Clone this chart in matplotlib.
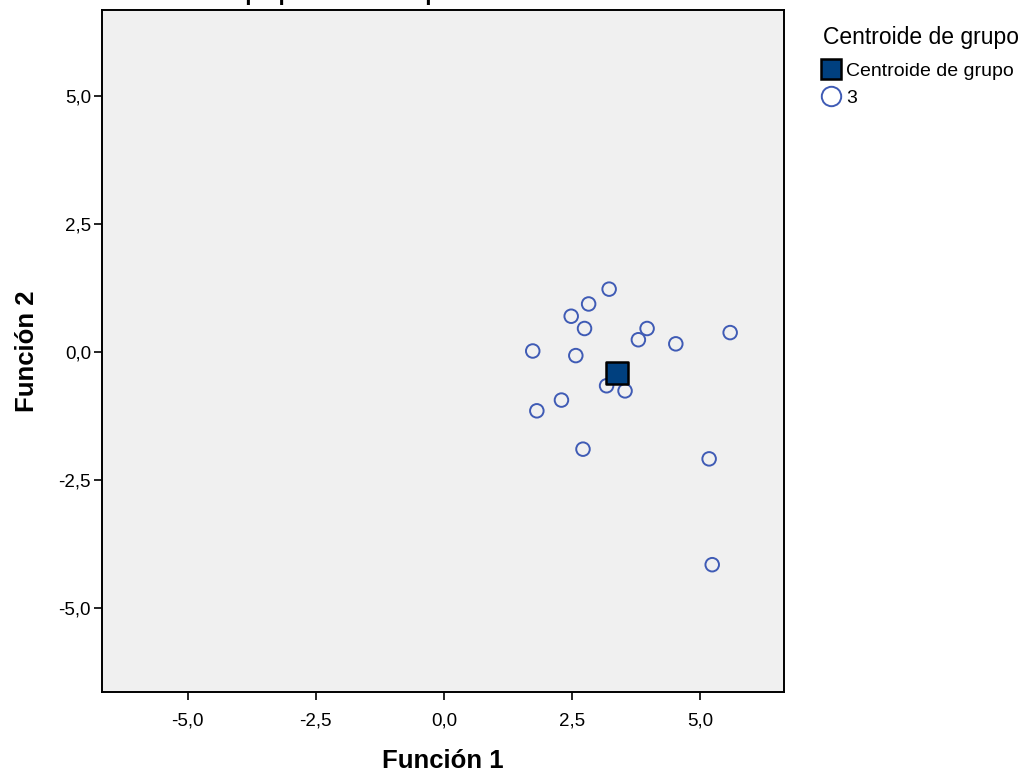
import matplotlib
matplotlib.use("Agg")
import matplotlib.pyplot as plt
from matplotlib.ticker import FuncFormatter, FixedLocator
from matplotlib.lines import Line2D

plt.rcParams['font.family'] = ['Liberation Sans', 'DejaVu Sans']

# Data (Función 1, Función 2) for cases of group 3
f1 = [3.22, 2.82, 2.48, 2.74, 3.96, 3.79, 4.52, 5.58, 1.73, 2.57, 3.17, 3.53, 2.29, 1.81, 2.71, 5.17, 5.23]
f2 = [1.23, 0.94, 0.70, 0.46, 0.46, 0.24, 0.16, 0.38, 0.02, -0.07, -0.66, -0.76, -0.94, -1.15, -1.90, -2.09, -4.16]
centroid_x = [3.37]
centroid_y = [-0.42]
ticks = [-5.0, -2.5, 0.0, 2.5, 5.0]
title = "Grupo pronosticado para análisis 1 = 3"
xlabel = "Función 1"
ylabel = "Función 2"
legend_title = "Centroide de grupo"
labels = ["Centroide de grupo", "3"]

fig = plt.figure(figsize=(10.25, 7.79), dpi=100)
ax = fig.add_axes([102/1025, 1-692/779, (784-102)/1025, (692-10)/779])
ax.set_facecolor('#F0F0F0')

circ_color = '#3F5BB5'
sq_color = '#00407F'
ax.scatter(f1, f2, s=95, facecolors='none', edgecolors=circ_color, linewidths=1.4, zorder=3)
ax.scatter(centroid_x, centroid_y, s=230, marker='s', facecolors=sq_color, edgecolors='black', linewidths=1.8, zorder=4)

ax.set_xlim(-6.67, 6.63)
ax.set_ylim(-6.65, 6.69)
fmt = FuncFormatter(lambda v, p: f"{v:.1f}".replace('.', ','))
ax.xaxis.set_major_locator(FixedLocator(ticks))
ax.yaxis.set_major_locator(FixedLocator(ticks))
ax.xaxis.set_major_formatter(fmt)
ax.yaxis.set_major_formatter(fmt)
ax.tick_params(axis='both', direction='out', length=6, width=1.2, labelsize=13.5, colors='black')
ax.tick_params(axis='x', pad=9)
ax.tick_params(axis='y', pad=2)
for s in ax.spines.values():
    s.set_linewidth(1.4)
    s.set_color('black')

ax.set_xlabel(xlabel, fontsize=18.5, fontweight='bold', labelpad=14)
ax.set_ylabel(ylabel, fontsize=18.5, fontweight='bold', labelpad=14)

fig.text(0.401, 1.0005, title, ha='center', va='baseline', fontsize=16, fontweight='bold')

handles = [
    Line2D([], [], marker='s', linestyle='none', markersize=14, markerfacecolor=sq_color, markeredgecolor='black', markeredgewidth=1.8),
    Line2D([], [], marker='o', linestyle='none', markersize=14, markerfacecolor='none', markeredgecolor=circ_color, markeredgewidth=1.4),
]
leg = fig.legend(handles, labels, title=legend_title, loc='upper left', bbox_to_anchor=(815/1025, 1-18/779),
                 frameon=False, fontsize=14, title_fontsize=16.5, handlelength=0.8, handletextpad=0.4,
                 labelspacing=0.45, alignment='left', borderaxespad=0)
leg._legend_box.sep = 10

fig.savefig('out.png', dpi=100)
